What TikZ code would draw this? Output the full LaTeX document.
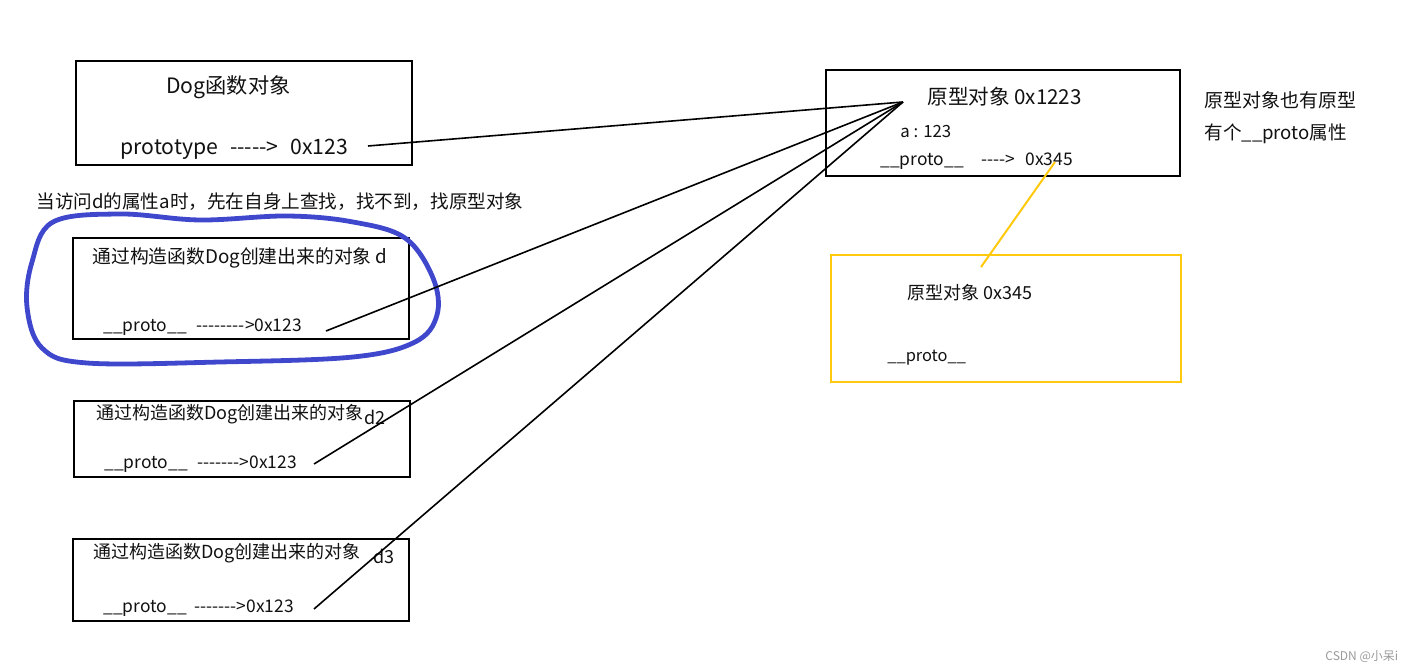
\documentclass[tikz,border=0pt]{standalone}
\usepackage{fontspec}
\usepackage{tikz}
\usetikzlibrary{positioning}
\newfontfamily\cjk[Ligatures=TeXOff]{Noto Sans CJK SC}
\definecolor{ink}{HTML}{111111}
\definecolor{penblue}{HTML}{3F48CC}
\definecolor{yel}{HTML}{FFC90E}
\definecolor{mark}{HTML}{9A9A9A}

\begin{document}
\begin{tikzpicture}[x=0.5pt, y=-0.5pt,
    every node/.style={font=\cjk, text=ink, inner sep=0pt},
    objbox/.style={draw=black, line width=1pt, inner sep=0pt},
    protobox/.style={draw=yel, line width=1pt, inner sep=0pt},
    lbl/.style={anchor=west, font=\cjk\fontsize{9}{11}\selectfont},
    small/.style={anchor=west, font=\cjk\fontsize{8.7}{10}\selectfont},
    link/.style={draw=black, line width=0.8pt},
  ]
  \useasboundingbox (0,0) rectangle (1416,672);

  % the function object Dog
  \node[objbox, minimum width=168pt, minimum height=52pt] (dog) at (244,113) {};
  \node[lbl, font=\cjk\fontsize{10.6}{12}\selectfont] (dogTitle) at (166,87) {Dog函数对象};
  \node[lbl, font=\cjk\fontsize{10.6}{12}\selectfont] (dogProto) at (120,149)
        {prototype\hspace{6pt}----->\hspace{6pt}0x123};

  % the prototype object
  \node[objbox, minimum width=177pt, minimum height=53pt] (proto) at (1003,123) {};
  \node[lbl, font=\cjk\fontsize{10.3}{12}\selectfont] (protoTitle) at (927,97) {原型对象 0x1223};
  \node[small, font=\cjk\fontsize{8.4}{10}\selectfont] (protoA) at (900,132) {a : 123};
  \node[small] (protoLink) at (880,161) {\_\_proto\_\_\hspace{9pt}---->\hspace{5pt}0x345};

  \node[lbl, font=\cjk\fontsize{9.5}{11}\selectfont] (note) at (1204,100) {原型对象也有原型};
  \node[lbl, font=\cjk\fontsize{9.3}{11}\selectfont, below=7pt of note.south west, anchor=north west]
        (note2) {有个\_\_proto属性};

  % the prototype of the prototype
  \node[protobox, minimum width=175pt, minimum height=63.5pt] (proto2) at (1006,318.5) {};
  \node[lbl] (proto2Title) at (907,293) {原型对象 0x345};
  \node[lbl, font=\cjk\fontsize{8.2}{10}\selectfont] (proto2Link) at (887,358) {\_\_proto\_\_};

  % lookup hint
  \node[lbl, font=\cjk\fontsize{9.3}{11}\selectfont] (hint) at (36,202)
        {当访问d的属性a时，先在自身上查找，找不到，找原型对象};

  % instances made by new Dog
  \node[objbox, minimum width=168pt, minimum height=50.5pt] (d1) at (241,288.5) {};
  \node[lbl, font=\cjk\fontsize{9.4}{11}\selectfont] (d1Title) at (92,258) {通过构造函数Dog创建出来的对象 d};
  \node[small] (d1Proto) at (103,327) {\_\_proto\_\_\hspace{5pt}-------->0x123};

  \node[objbox, minimum width=168pt, minimum height=38pt] (d2) at (242,439) {};
  \node[lbl] (d2Title) at (96,414) {通过构造函数Dog创建出来的对象};
  \node[lbl] (d2Name) at (364,417) {d2};
  \node[small] (d2Proto) at (104,464)
        {\_\_proto\_\_\hspace{5pt}------->0x123};

  \node[objbox, minimum width=168pt, minimum height=41pt] (d3) at (241,580) {};
  \node[lbl] (d3Title) at (93,553) {通过构造函数Dog创建出来的对象};
  \node[lbl] (d3Name) at (373,556) {d3};
  \node[small] (d3Proto) at (103,608)
        {\_\_proto\_\_\hspace{4pt}------->0x123};

  % hand drawn loop round d
  \draw[draw=penblue, line width=2.4pt, line join=round]
    plot[smooth cycle, tension=0.6] coordinates {(53,222) (120,214) (200,220) (287,216) (353,222)
      (405,238) (433,278) (437,315) (415,342) (353,357) (220,362) (87,363) (42,348)
      (27,307) (32,262)};

  % links to the prototype
  \coordinate (hub) at (903,102);
  \coordinate (dogEnd) at (368,146);
  \coordinate (d1End) at (326,331);
  \coordinate (d2End) at (314,464);
  \coordinate (d3End) at (314,609);
  \draw[link] (dogEnd) -- (hub);
  \draw[link] (d1End) -- (hub);
  \draw[link] (d2End) -- (hub);
  \draw[link] (d3End) -- (hub);

  \coordinate (yTop) at (1055,162);
  \coordinate (yEnd) at (981,267);
  \draw[draw=yel, line width=1pt] (yTop) -- (yEnd);

  \node[anchor=west, text=mark, font=\cjk\fontsize{6}{7}\selectfont] (wm) at (1325,657) {CSDN @小呆i};
\end{tikzpicture}
\end{document}
